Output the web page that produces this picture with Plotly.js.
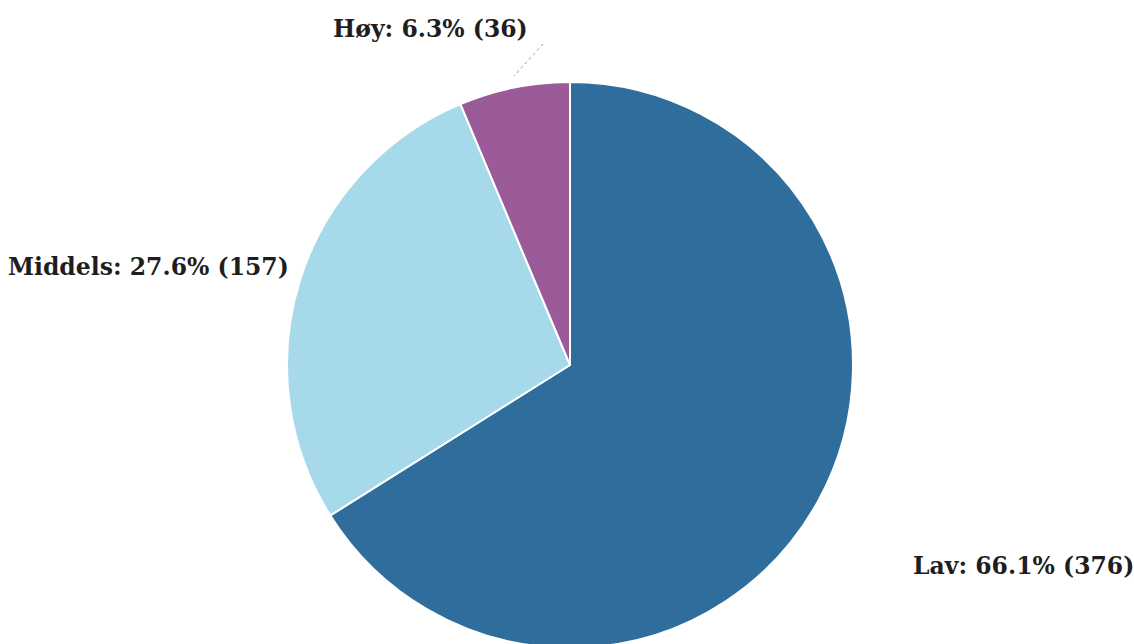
<!DOCTYPE html>
<html>
<head>
<meta charset="utf-8">
<script src="https://cdn.plot.ly/plotly-3.0.1.min.js"></script>
<style>
html,body{margin:0;padding:0;overflow:hidden;background:#fff;}
#chart{width:1134px;height:650px;}
</style>
</head>
<body>
<div id="chart"></div>
<script>
const categories = ["Lav", "Middels", "Høy"];
const counts = [376, 157, 36];
const percents = ["66.1%", "27.6%", "6.3%"];
const colors = ["#2f6d9c", "#a6d9ea", "#9a5b98"];

const W = 1134, H = 650;
const cx = 570, cy = 365, r = 283;

const labelText = categories.map((c, i) => c + ": " + percents[i] + " (" + counts[i] + ")");
const labelPos = [
  {x: 911, y: 566, xanchor: "left"},
  {x: 291, y: 267, xanchor: "right"},
  {x: 430, y: 29, xanchor: "center"}
];

const trace = {
  type: "pie",
  labels: categories,
  values: counts,
  sort: false,
  direction: "clockwise",
  rotation: 0,
  marker: {colors: colors, line: {color: "#ffffff", width: 2}},
  textinfo: "none",
  hoverinfo: "label+percent+value",
  showlegend: false,
  domain: {
    x: [(cx - r) / W, (cx + r) / W],
    y: [1 - (cy + r) / H, 1 - (cy - r) / H]
  }
};

const annotations = labelText.map((t, i) => ({
  text: t,
  xref: "paper", yref: "paper",
  x: labelPos[i].x / W,
  y: 1 - labelPos[i].y / H,
  xanchor: labelPos[i].xanchor,
  yanchor: "middle",
  showarrow: false,
  font: {family: "DejaVu Serif", size: 23.5, color: "#1e1e1e", weight: "bold"}
}));

const layout = {
  width: W, height: H,
  margin: {l: 0, r: 0, t: 0, b: 0},
  paper_bgcolor: "#ffffff",
  plot_bgcolor: "#ffffff",
  annotations: annotations,
  shapes: [
    {type: "line", xref: "paper", yref: "paper",
     x0: 543 / W, y0: 1 - 44 / H, x1: 514 / W, y1: 1 - 76 / H,
     line: {color: "#999999", width: 1, dash: "dot"}}
  ]
};

Plotly.newPlot("chart", [trace], layout, {displayModeBar: false, staticPlot: true});
</script>
</body>
</html>
